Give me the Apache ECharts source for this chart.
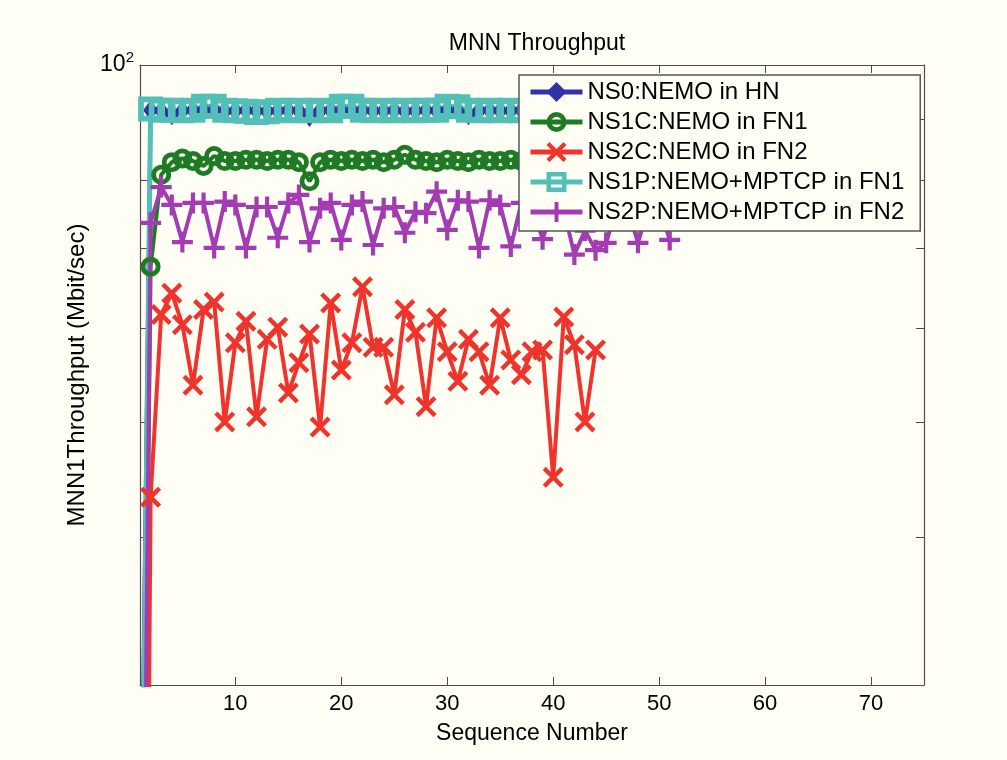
<!DOCTYPE html>
<html><head><meta charset="utf-8">
<script src="https://cdn.jsdelivr.net/npm/echarts@6/dist/echarts.min.js"></script>
<style>html,body{margin:0;padding:0;background:#fffef5}#c{width:1007px;height:760px}</style>
</head><body><div id="c"></div>
<script>
const seriesNames = ['NS0:NEMO in HN', 'NS1C:NEMO in FN1', 'NS2C:NEMO in FN2', 'NS1P:NEMO+MPTCP in FN1', 'NS2P:NEMO+MPTCP in FN2'];
const ns0 = [18, 91.6, 91.5, 90.8, 91.5, 91.6, 91.5, 91.6, 91.4, 91.5,
  91.6, 91.5, 91.4, 91.5, 91.6, 91.5, 90.5, 91.5, 91.6, 91.5,
  91.4, 91.6, 91.5, 91.5, 91.6, 91.4, 91.5, 91.6, 91.5, 91.5,
  91.4, 90.8, 91.5, 91.6, 91.5, 91.5, 91.6, 91.5, 91.4, 91.5,
  91.6, 91.5, 91.5, 91.4, 91.6, 91.5, 91.5, 91.6, 91.4, 91.5,
  91.5];
const ns1c = [10, 67.6, 80.8, 82.8, 83.4, 83.0, 82.2, 83.8, 83.0, 83.0,
  83.2, 83.2, 83.0, 83.2, 83.2, 82.8, 79.8, 82.8, 83.2, 83.0,
  83.2, 83.0, 83.2, 82.8, 83.2, 84.0, 83.2, 83.0, 82.8, 83.2,
  83.0, 82.8, 83.2, 83.0, 83.0, 83.2, 83.0, 83.2, 83.0, 83.2,
  83.0, 83.2, 83.0, 83.2, 83.0, 83.2, 83.0, 83.2, 83.0, 83.2,
  83.0];
const ns2c = [3, 43.2, 61.6, 64.2, 60.4, 53.7, 62.2, 63.1, 50.0, 58.3,
  60.8, 50.5, 58.7, 60.1, 52.9, 56.1, 59.3, 49.5, 63.0, 55.3,
  58.3, 65.0, 57.8, 57.8, 52.7, 62.2, 59.5, 51.5, 61.2, 57.3,
  54.1, 58.7, 57.3, 53.7, 61.2, 56.4, 54.8, 57.3, 57.5, 44.9,
  61.3, 58.1, 50.0, 57.5];
const ns1p = [15, 91.8, 91.6, 91.6, 91.5, 91.6, 92.3, 92.3, 91.6, 91.5,
  91.4, 91.2, 91.3, 91.6, 91.5, 91.6, 91.5, 91.6, 91.5, 92.3,
  92.3, 91.6, 91.5, 91.6, 91.5, 91.6, 91.5, 91.6, 91.6, 92.3,
  92.2, 91.6, 91.5, 91.6, 91.5, 91.6, 91.5, 91.6, 91.5, 91.6,
  91.5, 91.6, 91.5, 91.6, 91.5, 91.6, 91.5, 91.6, 91.5, 91.6,
  91.5];
const ns2p = [9, 73.6, 78.9, 76.2, 70.9, 76.5, 76.5, 70.1, 76.7, 76.2,
  70.1, 75.9, 75.9, 71.5, 76.5, 77.7, 70.9, 75.7, 76.5, 71.2,
  76.2, 76.7, 70.5, 75.7, 75.9, 72.2, 75.2, 75.0, 78.2, 72.6,
  76.9, 76.7, 70.1, 76.9, 76.2, 70.3, 76.5, 76.0, 71.3, 76.0,
  75.5, 69.2, 72.5, 69.8, 70.8, 76.0, 76.0, 70.8, 76.0, 76.0,
  71.2];
const xTicks = [10, 20, 30, 40, 50, 60, 70];
const yTicks = [40, 50, 60, 70, 80, 90, 100];
const yLabelValues = [100];

const SYM_X = 'path://M3,0L10,7L17,0L20,3L13,10L20,17L17,20L10,13L3,20L0,17L7,10L0,3Z';
const SYM_PLUS = 'path://M8,0H12V8H20V12H12V20H8V12H0V8H8Z';
const SYM_RECT = 'path://M0,0H24V24H0Z M5.5,5.5V18.5H18.5V5.5Z';
const SYM_CIRC = 'path://M10,0A10,10 0 1,1 10,20A10,10 0 1,1 10,0Z M10,4.8A5.2,5.2 0 1,0 10,15.2A5.2,5.2 0 1,0 10,4.8Z';

const FONT = 'Liberation Sans';
const AX = '#5a4848';
function pts(arr) { return arr.map((v, i) => [i + 1, v]); }

const styles = [
  {data: ns0, color: '#3232a8', symbol: 'diamond', size: [15, 21], width: 4},
  {data: ns1c, color: '#1f7a24', symbol: SYM_CIRC, size: 20, width: 4},
  {data: ns2c, color: '#f0332b', symbol: SYM_X, size: 21, width: 4},
  {data: ns1p, color: '#52c0b6', symbol: SYM_RECT, size: 25, width: 5},
  {data: ns2p, color: '#a33cb3', symbol: SYM_PLUS, size: 21, width: 4}
];

const chart = echarts.init(document.getElementById('c'));
const xBase = {
  type: 'value', min: 1, max: 75,
  axisLine: {show: true, lineStyle: {color: AX, width: 1.2}},
  axisTick: {show: true, inside: true, length: 8, customValues: xTicks, lineStyle: {color: AX}},
  splitLine: {show: false}
};
const yBase = {
  type: 'log', logBase: 10, min: 30, max: 100,
  axisLine: {show: true, lineStyle: {color: AX, width: 1.2}},
  axisTick: {show: true, inside: true, length: 8, customValues: yTicks, lineStyle: {color: AX}},
  splitLine: {show: false}
};
chart.setOption({
  animation: false,
  backgroundColor: '#fffef5',
  title: {
    text: 'MNN Throughput', left: 532, top: 27, textAlign: 'center',
    textStyle: {fontFamily: FONT, fontSize: 23, fontWeight: 'normal', color: '#000'}
  },
  legend: {
    orient: 'vertical', left: 519, top: 75,
    itemWidth: 52, itemHeight: 25, itemGap: 6,
    padding: [5, 16, 7, 9],
    borderColor: '#555', borderWidth: 1.5,
    backgroundColor: '#fffef5',
    lineStyle: {width: 5},
    textStyle: {fontFamily: FONT, fontSize: 24, color: '#000'},
    data: seriesNames
  },
  grid: {left: 140, right: 83, top: 65, bottom: 75, containLabel: false},
  xAxis: [
    Object.assign({}, xBase, {
      position: 'bottom',
      name: 'Sequence Number', nameLocation: 'middle', nameGap: 37,
      nameTextStyle: {fontFamily: FONT, fontSize: 23, color: '#000'},
      axisLabel: {show: true, customValues: xTicks, margin: 8, fontFamily: FONT, fontSize: 22, color: '#000'}
    }),
    Object.assign({}, xBase, {position: 'top', axisLabel: {show: false}})
  ],
  yAxis: [
    Object.assign({}, yBase, {
      position: 'left',
      name: 'MNN1Throughput (Mbit/sec)', nameLocation: 'middle', nameGap: 50,
      nameTextStyle: {fontFamily: FONT, fontSize: 24, color: '#000'},
      axisLabel: {
        show: true, customValues: yLabelValues, margin: 6,
        formatter: () => '{n|10}{e|2}',
        rich: {
          n: {fontFamily: FONT, fontSize: 23, color: '#000'},
          e: {fontFamily: FONT, fontSize: 15, color: '#000', padding: [0, 0, 14, 0]}
        }
      }
    }),
    Object.assign({}, yBase, {position: 'right', axisLabel: {show: false}})
  ],
  series: styles.map((s, i) => ({
    name: seriesNames[i], type: 'line',
    xAxisIndex: 0, yAxisIndex: 0,
    data: pts(s.data),
    symbol: s.symbol, symbolSize: s.size, showAllSymbol: true,
    clip: true,
    lineStyle: {color: s.color, width: s.width},
    itemStyle: {color: s.color, borderWidth: 0},
    emphasis: {disabled: true}
  }))
});
</script></body></html>
